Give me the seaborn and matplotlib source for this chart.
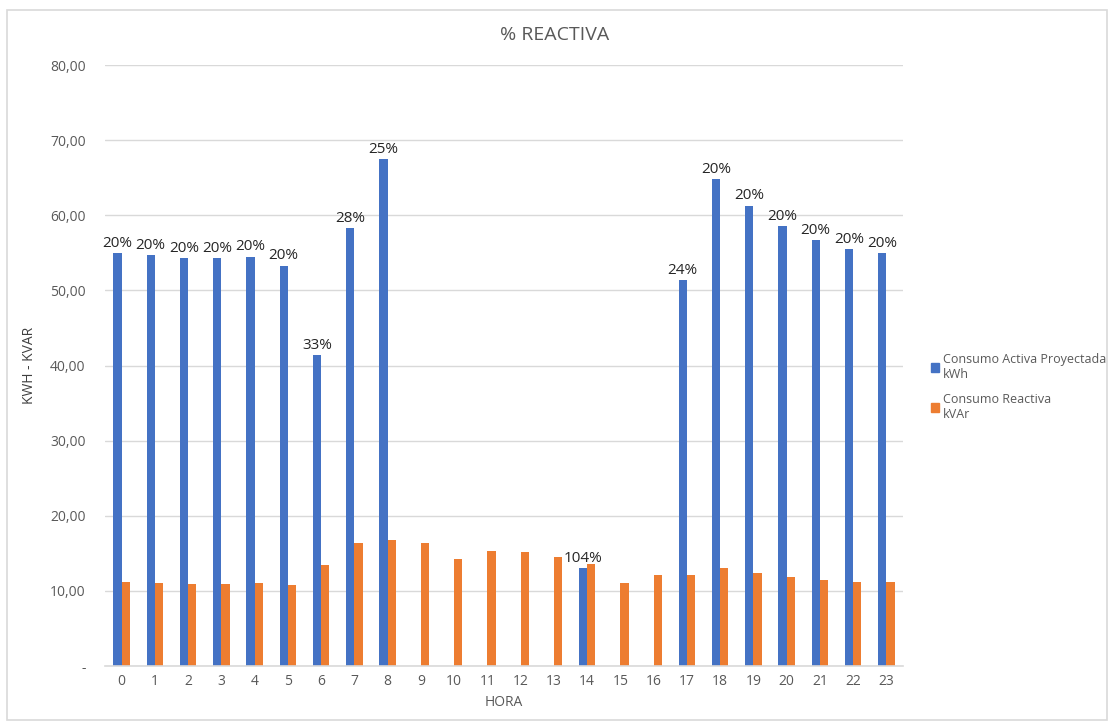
import matplotlib
matplotlib.use("Agg")
import matplotlib.pyplot as plt
import matplotlib.patches as mpatches
import seaborn as sns
import pandas as pd
import numpy as np

# Hourly data
horas = list(range(24))
activa = [55.0, 54.7, 54.3, 54.3, 54.5, 53.3, 41.4, 58.3, 67.5, 0, 0, 0, 0, 0,
          13.05, 0, 0, 51.4, 64.8, 61.3, 58.6, 56.7, 55.5, 55.0]
reactiva = [11.2, 11.05, 10.9, 10.9, 11.05, 10.8, 13.45, 16.4, 16.8, 16.4, 14.25,
            15.3, 15.2, 14.5, 13.6, 11.05, 12.1, 12.1, 13.05, 12.4, 11.85, 11.45,
            11.2, 11.2]
etiquetas = ["20%", "20%", "20%", "20%", "20%", "20%", "33%", "28%", "25%", "", "", "", "", "",
             "104%", "", "", "24%", "20%", "20%", "20%", "20%", "20%", "20%"]
serie_activa = "Consumo Activa Proyectada\nkWh"
serie_reactiva = "Consumo Reactiva\nkVAr"
y_ticks = [0, 10, 20, 30, 40, 50, 60, 70, 80]
y_ticklabels = ["-", "10,00", "20,00", "30,00", "40,00", "50,00", "60,00", "70,00", "80,00"]

df = pd.DataFrame({
    "hora": [str(h) for h in horas] * 2,
    "valor": activa + reactiva,
    "serie": [serie_activa] * 24 + [serie_reactiva] * 24,
})

sns.set_style("white")
plt.rcParams["font.family"] = ["Open Sans", "DejaVu Sans"]

fig = plt.figure(figsize=(11.09, 7.23), dpi=100)
ax = fig.add_axes([0.0947, 0.0788, 0.7195, 0.8312])

colors = {serie_activa: "#4472C4", serie_reactiva: "#ED7D31"}
sns.barplot(data=df, x="hora", y="valor", hue="serie", palette=colors,
            width=0.5, ax=ax, legend=False, saturation=1, linewidth=0)

ax.set_ylim(0, 80)
ax.set_xlim(-0.5, 23.5)
ax.set_yticks(y_ticks)
ax.set_yticklabels(y_ticklabels)
ax.yaxis.grid(True, color="#d9d9d9", linewidth=1)
ax.set_axisbelow(True)
for s in ["top", "right", "left"]:
    ax.spines[s].set_visible(False)
ax.spines["bottom"].set_color("#d9d9d9")
ax.spines["bottom"].set_linewidth(1.2)
ax.tick_params(axis="both", length=0, labelsize=10, labelcolor="#595959")
ax.tick_params(axis="x", pad=6)
ax.tick_params(axis="y", pad=14)

# Percent labels above the active-energy bars
blue_bars = ax.containers[0]
for bar, txt in zip(blue_bars, etiquetas):
    if txt:
        ax.text(bar.get_x() + bar.get_width() / 2, bar.get_height() + 0.3, txt,
                ha="center", va="bottom", fontsize=11, color="#262626")

ax.set_xlabel("HORA", fontsize=10, color="#595959", labelpad=4)
ax.set_ylabel("KWH - KVAR", fontsize=10, color="#404040", labelpad=-3)
ax.yaxis.set_label_coords(-0.085, 0.5)
fig.text(0.5, 0.951, "% REACTIVA", ha="center", va="center", fontsize=14, color="#595959")

handles = [mpatches.Patch(color=colors[serie_activa], label=serie_activa),
           mpatches.Patch(color=colors[serie_reactiva], label=serie_reactiva)]
fig.legend(handles=handles, loc="center left", bbox_to_anchor=(0.829, 0.465),
           frameon=False, fontsize=9, handlelength=0.7, handleheight=0.7,
           handletextpad=0.3, labelspacing=1.0, labelcolor="#595959")

# Outer chart border
fig.add_artist(mpatches.Rectangle((0.006, 0.004), 0.992, 0.982, transform=fig.transFigure,
                                  fill=False, edgecolor="#d9d9d9", linewidth=1.2))

fig.savefig("out.png", dpi=100, facecolor="white")
